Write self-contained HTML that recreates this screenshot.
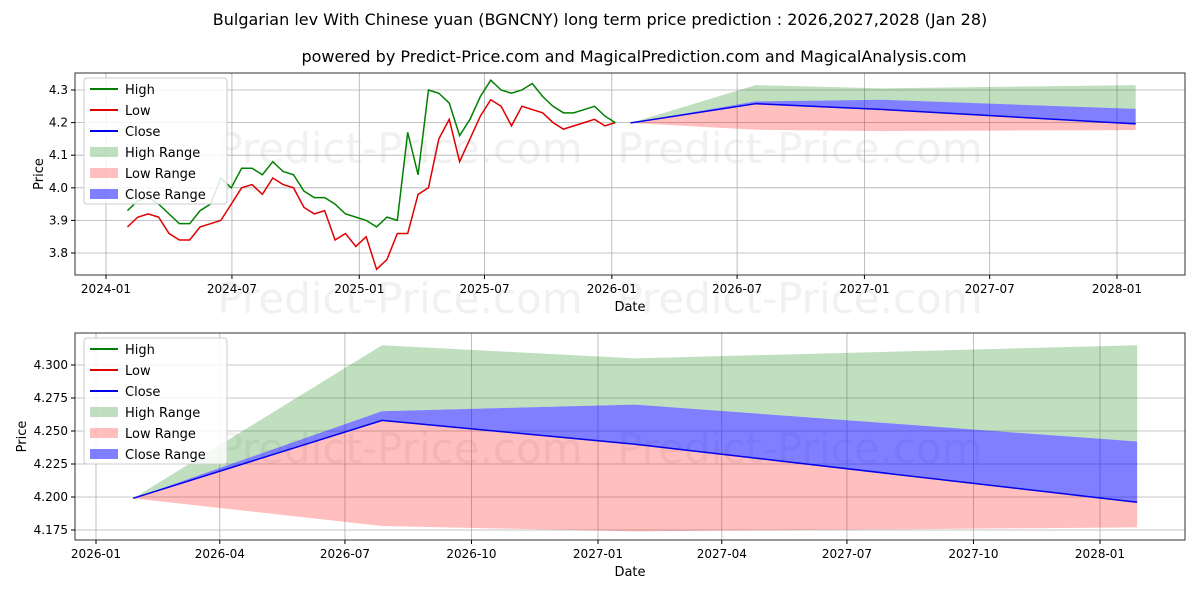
<!DOCTYPE html>
<html><head><meta charset="utf-8"><style>
body{margin:0;background:#fff;font-family:"Liberation Sans","DejaVu Sans",sans-serif}
svg text{font-family:"DejaVu Sans","Liberation Sans",sans-serif}
</style></head><body>
<svg id="c" width="1200" height="600" xmlns="http://www.w3.org/2000/svg"></svg>
<script>
// ---- data ----
const histDays=[31,46,61,76,91,106,121,136,151,166,181,196,211,226,241,256,271,286,301,316,331,346,361,376,391,406,421,436,451,466,481,496,511,526,541,556,571,586,601,616,631,646,661,676,691,706,721,736];
const histClose=[3.91,3.93,3.95,3.93,3.90,3.87,3.86,3.90,3.92,3.93,3.97,4.03,4.04,4.01,4.06,4.03,4.03,3.97,3.95,3.96,3.93,3.90,3.88,3.88,3.85,3.80,3.88,3.88,4.02,4.05,4.20,4.24,4.13,4.18,4.25,4.30,4.28,4.25,4.28,4.27,4.26,4.23,4.20,4.21,4.22,4.23,4.20,4.20];
const histHigh=[3.93,3.96,3.97,3.95,3.92,3.89,3.89,3.93,3.95,4.03,4.00,4.06,4.06,4.04,4.08,4.05,4.04,3.99,3.97,3.97,3.95,3.92,3.91,3.90,3.88,3.91,3.90,4.17,4.04,4.30,4.29,4.26,4.16,4.21,4.28,4.33,4.30,4.29,4.30,4.32,4.28,4.25,4.23,4.23,4.24,4.25,4.22,4.20];
const histLow=[3.88,3.91,3.92,3.91,3.86,3.84,3.84,3.88,3.89,3.90,3.95,4.00,4.01,3.98,4.03,4.01,4.00,3.94,3.92,3.93,3.84,3.86,3.82,3.85,3.75,3.78,3.86,3.86,3.98,4.00,4.15,4.21,4.08,4.15,4.22,4.27,4.25,4.19,4.25,4.24,4.23,4.20,4.18,4.19,4.20,4.21,4.19,4.20];
const predDays=[758,939,1123,1488];
const predClose=[4.199,4.258,4.240,4.196];
const predHighTop=[4.199,4.315,4.305,4.315];
const predCloseTop=[4.199,4.265,4.270,4.242];
const predLowBot=[4.199,4.178,4.174,4.177];
const topYTicks=[3.8,3.9,4.0,4.1,4.2,4.3];
const topXTicks=["2024-01","2024-07","2025-01","2025-07","2026-01","2026-07","2027-01","2027-07","2028-01"];
const topXTickDays=[0,182,366,547,731,912,1096,1277,1461];
const botYTicks=[4.175,4.2,4.225,4.25,4.275,4.3];
const botXTicks=["2026-01","2026-04","2026-07","2026-10","2027-01","2027-04","2027-07","2027-10","2028-01"];
const botXTickDays=[731,821,912,1004,1096,1186,1277,1369,1461];

const svg=document.getElementById('c');const NS="http://www.w3.org/2000/svg";
function el(t,a,p){const e=document.createElementNS(NS,t);for(const k in a)e.setAttribute(k,a[k]);(p||svg).appendChild(e);return e;}
function txt(x,y,s,o,p){const e=el('text',Object.assign({x:x,y:y,'font-size':13,fill:'#000'},o||{}),p);e.textContent=s;return e;}

const t1=txt(600,25,"Bulgarian lev With Chinese yuan (BGNCNY) long term price prediction : 2026,2027,2028 (Jan 28)",{'text-anchor':'middle','font-size':16});

const t2=txt(634,62,"powered by Predict-Price.com and MagicalPrediction.com and MagicalAnalysis.com",{'text-anchor':'middle','font-size':16});


function panel(cfg){
 const g=el('g',{});
 
 
 const X=d=>cfg.x0+(d-cfg.d0)*(cfg.x1-cfg.x0)/(cfg.d1-cfg.d0);
 const Y=v=>cfg.y0+(v-cfg.v0)*(cfg.y1-cfg.y0)/(cfg.v1-cfg.v0);
 cfg.wm.forEach(wy=>{
  txt(400,wy,"Predict-Price.com",{'text-anchor':'middle','font-size':42,style:'fill:#e8e8e8;fill-opacity:0.6'},g);
  txt(800,wy,"Predict-Price.com",{'text-anchor':'middle','font-size':42,style:'fill:#e8e8e8;fill-opacity:0.6'},g);
 });
 cfg.xt.forEach((t,i)=>{const x=X(cfg.xtd[i]);
  el('line',{x1:x,x2:x,y1:cfg.top,y2:cfg.bot,stroke:'#b0b0b0','stroke-width':0.8},g);
  el('line',{x1:x,x2:x,y1:cfg.bot,y2:cfg.bot+4,stroke:'#000'},g);
  txt(x,cfg.bot+18,t,{'text-anchor':'middle','font-size':12},g);});
 cfg.yt.forEach(v=>{const y=Y(v);
  el('line',{x1:cfg.left,x2:cfg.right,y1:y,y2:y,stroke:'#b0b0b0','stroke-width':0.8},g);
  el('line',{x1:cfg.left-4,x2:cfg.left,y1:y,y2:y,stroke:'#000'},g);
  txt(cfg.left-7,y+4,cfg.fmt(v),{'text-anchor':'end','font-size':12},g);});
 const poly=(top,bot,c,n)=>{let p=predDays.map((d,i)=>X(d)+','+Y(top[i]));
  for(let i=predDays.length-1;i>=0;i--)p.push(X(predDays[i])+','+Y(bot[i]));
  const e=el('polygon',{points:p.join(' '),fill:c},g);};
 poly(predHighTop,predCloseTop,'rgba(0,128,0,0.25)','high-range-band');
 poly(predClose,predLowBot,'rgba(255,0,0,0.25)','low-range-band');
 poly(predCloseTop,predClose,'rgba(0,0,255,0.5)','close-range-band');
 if(cfg.hist){
  const line=(arr,c,n)=>{const e=el('polyline',{points:histDays.map((d,i)=>X(d)+','+Y(arr[i])).join(' '),fill:'none',stroke:c,'stroke-width':1.5},g);};
  line(histLow,'#e00000','low-line');line(histHigh,'#008000','high-line');
 }
 const cl=el('polyline',{points:predDays.map((d,i)=>X(d)+','+Y(predClose[i])).join(' '),fill:'none',stroke:'#0000ee','stroke-width':1.5},g);
 
 el('rect',{x:cfg.left,y:cfg.top,width:cfg.right-cfg.left,height:cfg.bot-cfg.top,fill:'none',stroke:'#000','stroke-width':0.8},g);
 txt((cfg.left+cfg.right)/2,cfg.bot+36,"Date",{'text-anchor':'middle','font-size':13},g);
 txt(0,0,"Price",{'text-anchor':'middle','font-size':13,transform:`translate(${cfg.py},${(cfg.top+cfg.bot)/2}) rotate(-90)`},g);
 const lg=el('g',{},g);
 el('rect',{x:cfg.left+9,y:cfg.top+5,width:143,height:126,rx:3,fill:'#fff','fill-opacity':0.85,stroke:'#ccc'},lg);
 const items=[['High','line','#008000'],['Low','line','#e00000'],['Close','line','#0000ee'],['High Range','box','rgba(0,128,0,0.25)'],['Low Range','box','rgba(255,0,0,0.25)'],['Close Range','box','rgba(0,0,255,0.5)']];
 items.forEach((it,i)=>{const y=cfg.top+16+i*21;
  if(it[1]=='line')el('line',{x1:cfg.left+15,x2:cfg.left+43,y1:y,y2:y,stroke:it[2],'stroke-width':2},lg);
  else el('rect',{x:cfg.left+15,y:y-5,width:28,height:10,fill:it[2]},lg);
  txt(cfg.left+50,y+5,it[0],{'font-size':13},lg);});
}
panel({name:'top-panel',left:75,right:1185,top:73,bot:275,x0:106,x1:1117,d0:0,d1:1461,y0:253,y1:90,v0:3.8,v1:4.3,
 xt:topXTicks,xtd:topXTickDays,yt:topYTicks,fmt:v=>v.toFixed(1),hist:true,wm:[163,313],py:43});
panel({name:'bottom-panel',left:75,right:1185,top:333,bot:540,x0:96,x1:1100,d0:731,d1:1461,y0:530,y1:365,v0:4.175,v1:4.3,
 xt:botXTicks,xtd:botXTickDays,yt:botYTicks,fmt:v=>v.toFixed(3),hist:false,wm:[463],py:26});
</script>
</body></html>
